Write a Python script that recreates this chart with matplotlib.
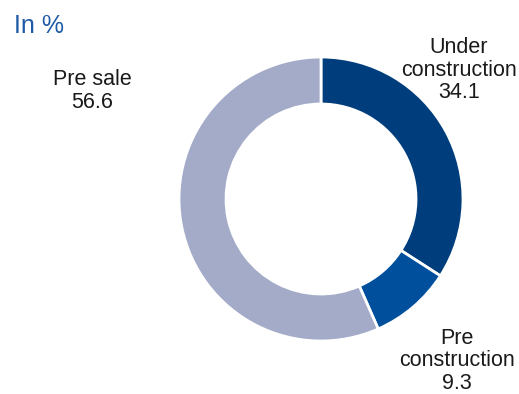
import matplotlib.pyplot as plt

plt.rcParams['font.family'] = ['Liberation Sans', 'DejaVu Sans']

# 项目阶段占比 (%)
stages = ['Under\nconstruction', 'Pre\nconstruction', 'Pre sale']
shares = [34.1, 9.3, 56.6]
colors = ['#003d7c', '#004f9d', '#a3abc8']

fig = plt.figure(figsize=(5.19, 3.94), dpi=100)
ax = fig.add_axes([0, 0, 1, 1])

ax.pie(shares, colors=colors, startangle=90, counterclock=False,
       center=(321, 195), radius=142,
       wedgeprops=dict(width=47, edgecolor='white', linewidth=2))

# pie() 会重设坐标范围，之后再设像素坐标
ax.set_xlim(0, 519)
ax.set_ylim(0, 394)
ax.set_aspect('equal')
ax.axis('off')

# 标签位置
label_pos = [(459, 324), (457, 33), (92, 303)]
for name, val, (x, y) in zip(stages, shares, label_pos):
    ax.text(x, y, f'{name}\n{val}', ha='center', va='center',
            fontsize=15.5, color='#1a1a1a', linespacing=1.08)

ax.text(14, 368, 'In %', ha='left', va='center', fontsize=18, color='#1f5aa6')

fig.savefig('out.png', dpi=100)
